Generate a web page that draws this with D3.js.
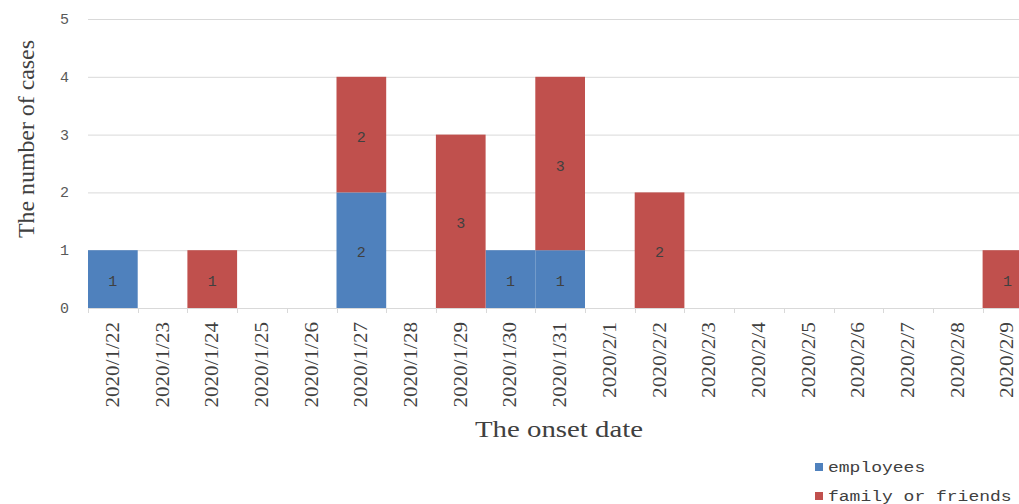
<!DOCTYPE html>
<html>
<head>
<meta charset="utf-8">
<script src="https://cdn.jsdelivr.net/npm/d3@7"></script>
<style>
  body { margin: 0; background: #fff; overflow: hidden; }
  svg { display: block; }
</style>
</head>
<body>
<div id="chart"></div>
<script>
// onset dates and case counts
const dates = ["2020/1/22", "2020/1/23", "2020/1/24", "2020/1/25", "2020/1/26", "2020/1/27",
  "2020/1/28", "2020/1/29", "2020/1/30", "2020/1/31", "2020/2/1", "2020/2/2", "2020/2/3",
  "2020/2/4", "2020/2/5", "2020/2/6", "2020/2/7", "2020/2/8", "2020/2/9"];
const employees = [1, 0, 0, 0, 0, 2, 0, 0, 1, 1, 0, 0, 0, 0, 0, 0, 0, 0, 0];
const familyOrFriends = [0, 0, 1, 0, 0, 2, 0, 3, 0, 3, 0, 2, 0, 0, 0, 0, 0, 0, 1];
const seriesNames = ["employees", "family or friends"];
const seriesColors = ["#4F81BD", "#C0504D"];
const yTicks = [0, 1, 2, 3, 4, 5];

const width = 1019, height = 504;
const margin = {top: 19, left: 88, bottom: 196};

const svg = d3.select('#chart').append('svg')
  .attr('width', width)
  .attr('height', height);

const rows = dates.map((d, i) => ({date: d, employees: employees[i], family: familyOrFriends[i]}));
const stack = d3.stack().keys(['employees', 'family'])(rows);

// band of ~49.7px per day, last one runs off the right edge
const x = d3.scaleBand()
  .domain(dates)
  .range([margin.left, margin.left + 49.7 * dates.length])
  .padding(0);

const y = d3.scaleLinear()
  .domain([0, 5])
  .range([height - margin.bottom, margin.top]);

// gridlines
svg.append('g')
  .selectAll('line')
  .data(yTicks)
  .join('line')
  .attr('x1', margin.left)
  .attr('x2', width)
  .attr('y1', d => y(d) + 0.5)
  .attr('y2', d => y(d) + 0.5)
  .style('stroke', '#d9d9d9')
  .style('stroke-width', '1px');

// bars
svg.append('g')
  .selectAll('g')
  .data(stack)
  .join('g')
  .style('fill', (d, i) => seriesColors[i])
  .selectAll('rect')
  .data(d => d.filter(s => s[1] - s[0] > 0))
  .join('rect')
  .attr('x', d => x(d.data.date))
  .attr('width', x.bandwidth())
  .attr('y', d => y(d[1]))
  .attr('height', d => y(d[0]) - y(d[1]));

// data labels
svg.append('g')
  .selectAll('g')
  .data(stack)
  .join('g')
  .selectAll('text')
  .data(d => d.filter(s => s[1] - s[0] > 0))
  .join('text')
  .attr('x', d => x(d.data.date) + x.bandwidth() / 2)
  .attr('y', d => (y(d[0]) + y(d[1])) / 2 + 7)
  .attr('text-anchor', 'middle')
  .style('font-family', '"Liberation Mono", monospace')
  .style('font-size', '15px')
  .style('fill', '#404040')
  .text(d => d[1] - d[0]);

// x axis line and ticks
svg.append('line')
  .attr('x1', margin.left)
  .attr('x2', width)
  .attr('y1', height - margin.bottom + 0.5)
  .attr('y2', height - margin.bottom + 0.5)
  .style('stroke', '#d9d9d9');

svg.append('g')
  .selectAll('line')
  .data(dates)
  .join('line')
  .attr('x1', d => Math.round(x(d)) + 0.5)
  .attr('x2', d => Math.round(x(d)) + 0.5)
  .attr('y1', height - margin.bottom)
  .attr('y2', height - margin.bottom + 5)
  .style('stroke', '#d9d9d9');

svg.append('g')
  .selectAll('text')
  .data(dates)
  .join('text')
  .attr('transform', d => 'translate(' + (x(d) + x.bandwidth() / 2 + 6) + ',' + 322 + ') rotate(-90)')
  .attr('text-anchor', 'end')
  .attr('textLength', d => d.length * 9.5)
  .attr('lengthAdjust', 'spacingAndGlyphs')
  .style('font-family', '"Liberation Serif", serif')
  .style('font-size', '18px')
  .style('fill', '#404040')
  .text(d => d);

// y tick labels
svg.append('g')
  .selectAll('text')
  .data(yTicks)
  .join('text')
  .attr('x', 69)
  .attr('y', d => y(d) + 5)
  .attr('text-anchor', 'end')
  .style('font-family', '"Liberation Mono", monospace')
  .style('font-size', '15px')
  .style('fill', '#595959')
  .text(d => d);

// axis titles
svg.append('text')
  .attr('x', 559)
  .attr('y', 437)
  .attr('text-anchor', 'middle')
  .attr('textLength', 168)
  .attr('lengthAdjust', 'spacingAndGlyphs')
  .style('font-family', '"Liberation Serif", serif')
  .style('font-size', '24px')
  .style('fill', '#404040')
  .text('The onset date');

svg.append('text')
  .attr('transform', 'translate(34,' + 139 + ') rotate(-90)')
  .attr('text-anchor', 'middle')
  .attr('textLength', 198)
  .attr('lengthAdjust', 'spacingAndGlyphs')
  .style('font-family', '"Liberation Serif", serif')
  .style('font-size', '24px')
  .style('fill', '#404040')
  .text('The number of cases');

// legend
const legendItems = svg.selectAll('g.legendItem')
  .data(seriesNames)
  .join('g')
  .classed('legendItem', true)
  .attr('transform', (d, i) => 'translate(815,' + (463 + i * 29) + ')');

legendItems.append('rect')
  .attr('width', 8)
  .attr('height', 8)
  .style('fill', (d, i) => seriesColors[i]);

legendItems.append('text')
  .attr('x', 13)
  .attr('y', 9)
  .attr('textLength', d => d.length * 10.8)
  .attr('lengthAdjust', 'spacingAndGlyphs')
  .style('font-family', '"Liberation Mono", monospace')
  .style('font-size', '14px')
  .style('fill', '#404040')
  .text(d => d);
</script>
</body>
</html>
